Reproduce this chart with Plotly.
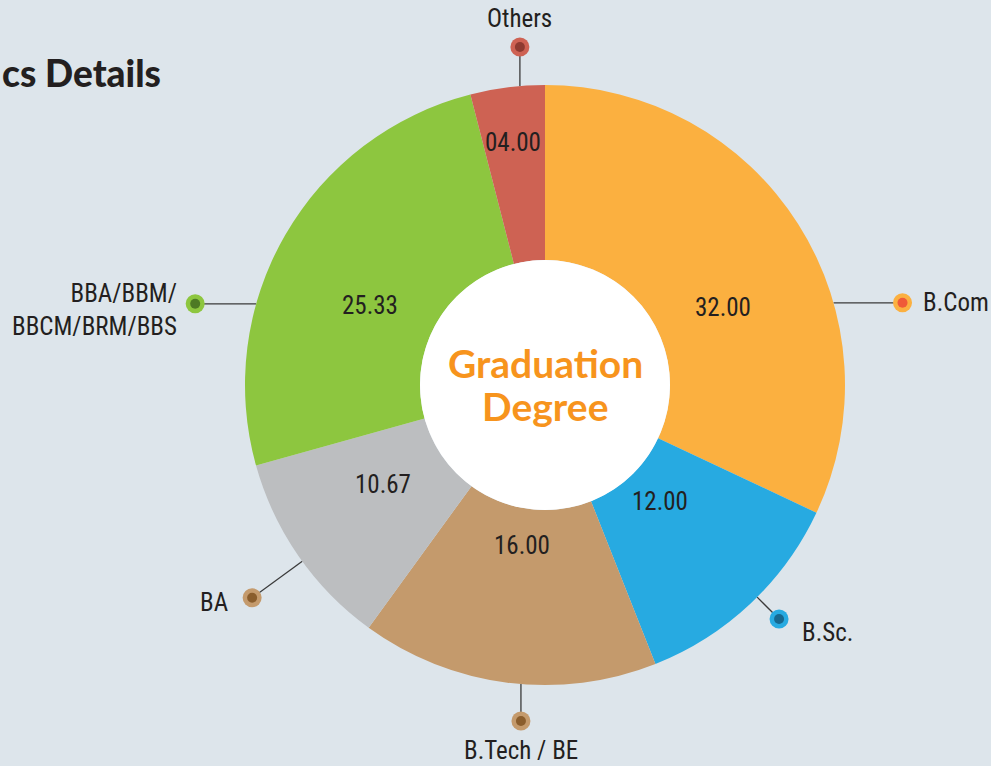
import math
import plotly.graph_objects as go

# ---------------- data ----------------
categories = ["B.Com", "B.Sc.", "B.Tech / BE", "BA", "BBA/BBM/<br>BBCM/BRM/BBS", "Others"]
values = [32.00, 12.00, 16.00, 10.67, 25.33, 4.00]
center_title_lines = ["Graduation", "Degree"]
page_title = "cs Details"

# ---------------- style ----------------
W, H = 991, 766
CX, CY, R, R_HOLE = 545, 385, 300, 125
slice_colors = ["#FBB040", "#27AAE1", "#C49A6C", "#BCBEC0", "#8DC63F", "#CE6253"]
dot_outer = ["#FBB040", "#27AAE1", "#C49A6C", "#C49A6C", "#8DC63F", "#CE6253"]
dot_inner = ["#EF5A38", "#17688F", "#8A5D2C", "#8A5D2C", "#4D7A24", "#8E3A30"]
BG = "#DDE5EB"
LABEL_FONT = "Liberation Sans Narrow, Roboto Condensed, Roboto, sans-serif"
BOLD_FONT = "Lato, Open Sans, sans-serif"
# value-label placement: radius from centre and angular nudge from the slice middle
value_label_radius = [194, 164, 162, 190, 192, 245]
value_label_shift = [9.0, -1.3, 0.8, 3.1, -5.4, -0.3]

# callout style: anchor angle on the rim (deg clockwise from top), leader mode and length,
# label offset from the dot and anchoring
callout_style = [
    dict(a=74.1, mode="h", L=69, dx=18, dy=0, xa="left", ya="middle", al="left"),
    dict(a=135.0, mode="r", L=31, dx=21, dy=13, xa="left", ya="middle", al="left"),
    dict(a=184.6, mode="v", L=37, dx=0, dy=29, xa="center", ya="middle", al="center"),
    dict(a=234.0, mode="r", L=62, dx=-22, dy=5, xa="right", ya="middle", al="right"),
    dict(a=285.7, mode="h", L=-61, dx=-16, dy=6, xa="right", ya="middle", al="right"),
    dict(a=355.2, mode="v", L=-39, dx=0, dy=-29, xa="center", ya="middle", al="center"),
]

fig = go.Figure()

# donut
fig.add_trace(go.Pie(
    labels=categories, values=values, sort=False, direction="clockwise", rotation=0,
    hole=R_HOLE / R,
    marker=dict(colors=slice_colors, line=dict(width=0)),
    textinfo="none",
    domain=dict(x=[(CX - R) / W, (CX + R) / W], y=[1 - (CY + R) / H, 1 - (CY - R) / H]),
    showlegend=False, hoverinfo="label+value",
))

# white centre disc
fig.add_trace(go.Pie(
    labels=[""], values=[1], sort=False, marker=dict(colors=["#FFFFFF"], line=dict(width=0)),
    textinfo="none", hoverinfo="skip", showlegend=False,
    domain=dict(x=[(CX - R_HOLE) / W, (CX + R_HOLE) / W],
                y=[1 - (CY + R_HOLE) / H, 1 - (CY - R_HOLE) / H]),
))

annotations = []

# value labels at slice middles
total = sum(values)
cum = 0.0
for i, v in enumerate(values):
    mid = (cum + v / 2) / total * 360 + value_label_shift[i]
    cum += v
    th = math.radians(mid)
    rr = value_label_radius[i]
    annotations.append(dict(x=CX + rr * math.sin(th), y=CY - rr * math.cos(th),
                            xref="x", yref="y", text=f"{v:05.2f}", showarrow=False,
                            xanchor="center", yanchor="middle",
                            font=dict(family=LABEL_FONT, size=25, color="#231F20")))

# callouts (pixel overlay axes)
for i, (cat, st) in enumerate(zip(categories, callout_style)):
    th = math.radians(st["a"])
    x0 = CX + R * math.sin(th)
    y0 = CY - R * math.cos(th)
    if st["mode"] == "h":
        x1, y1 = x0 + st["L"], y0
    elif st["mode"] == "v":
        x1, y1 = x0, y0 + st["L"]
    else:
        x1 = CX + (R + st["L"]) * math.sin(th)
        y1 = CY - (R + st["L"]) * math.cos(th)
    fig.add_trace(go.Scatter(x=[x0, x1], y=[y0, y1], mode="lines",
                             line=dict(color="#3A3A3A", width=1.3),
                             hoverinfo="skip", showlegend=False))
    fig.add_trace(go.Scatter(x=[x1], y=[y1], mode="markers",
                             marker=dict(size=19, color=dot_outer[i], line=dict(width=0)),
                             hoverinfo="skip", showlegend=False))
    fig.add_trace(go.Scatter(x=[x1], y=[y1], mode="markers",
                             marker=dict(size=10, color=dot_inner[i], line=dict(width=0)),
                             hoverinfo="skip", showlegend=False))
    annotations.append(dict(x=x1 + st["dx"], y=y1 + st["dy"], xref="x", yref="y",
                            text=cat, showarrow=False, xanchor=st["xa"], yanchor=st["ya"],
                            align=st["al"],
                            font=dict(family=LABEL_FONT, size=25, color="#231F20")))

for k, line_txt in enumerate(center_title_lines):
    annotations.append(dict(x=CX, y=CY - 22 + 43 * k, xref="x", yref="y", text=line_txt,
                            showarrow=False, xanchor="center", yanchor="middle",
                            font=dict(family=BOLD_FONT, size=39, color="#F7941D", weight="bold")))
annotations.append(dict(x=0.0, y=1 - 72 / H, xref="paper", yref="paper", text=page_title,
                        showarrow=False, xanchor="left", yanchor="middle",
                        font=dict(family=BOLD_FONT, size=37, color="#231F20", weight=900)))

fig.update_layout(
    width=W, height=H, margin=dict(l=0, r=0, t=0, b=0),
    paper_bgcolor=BG, plot_bgcolor="rgba(0,0,0,0)",
    xaxis=dict(range=[0, W], visible=False, fixedrange=True, domain=[0, 1]),
    yaxis=dict(range=[H, 0], visible=False, fixedrange=True, domain=[0, 1]),
    annotations=annotations,
)

fig.write_html("out.html", config={"displayModeBar": False},
               post_script="document.body.style.margin='0';document.body.style.overflow='hidden';")
